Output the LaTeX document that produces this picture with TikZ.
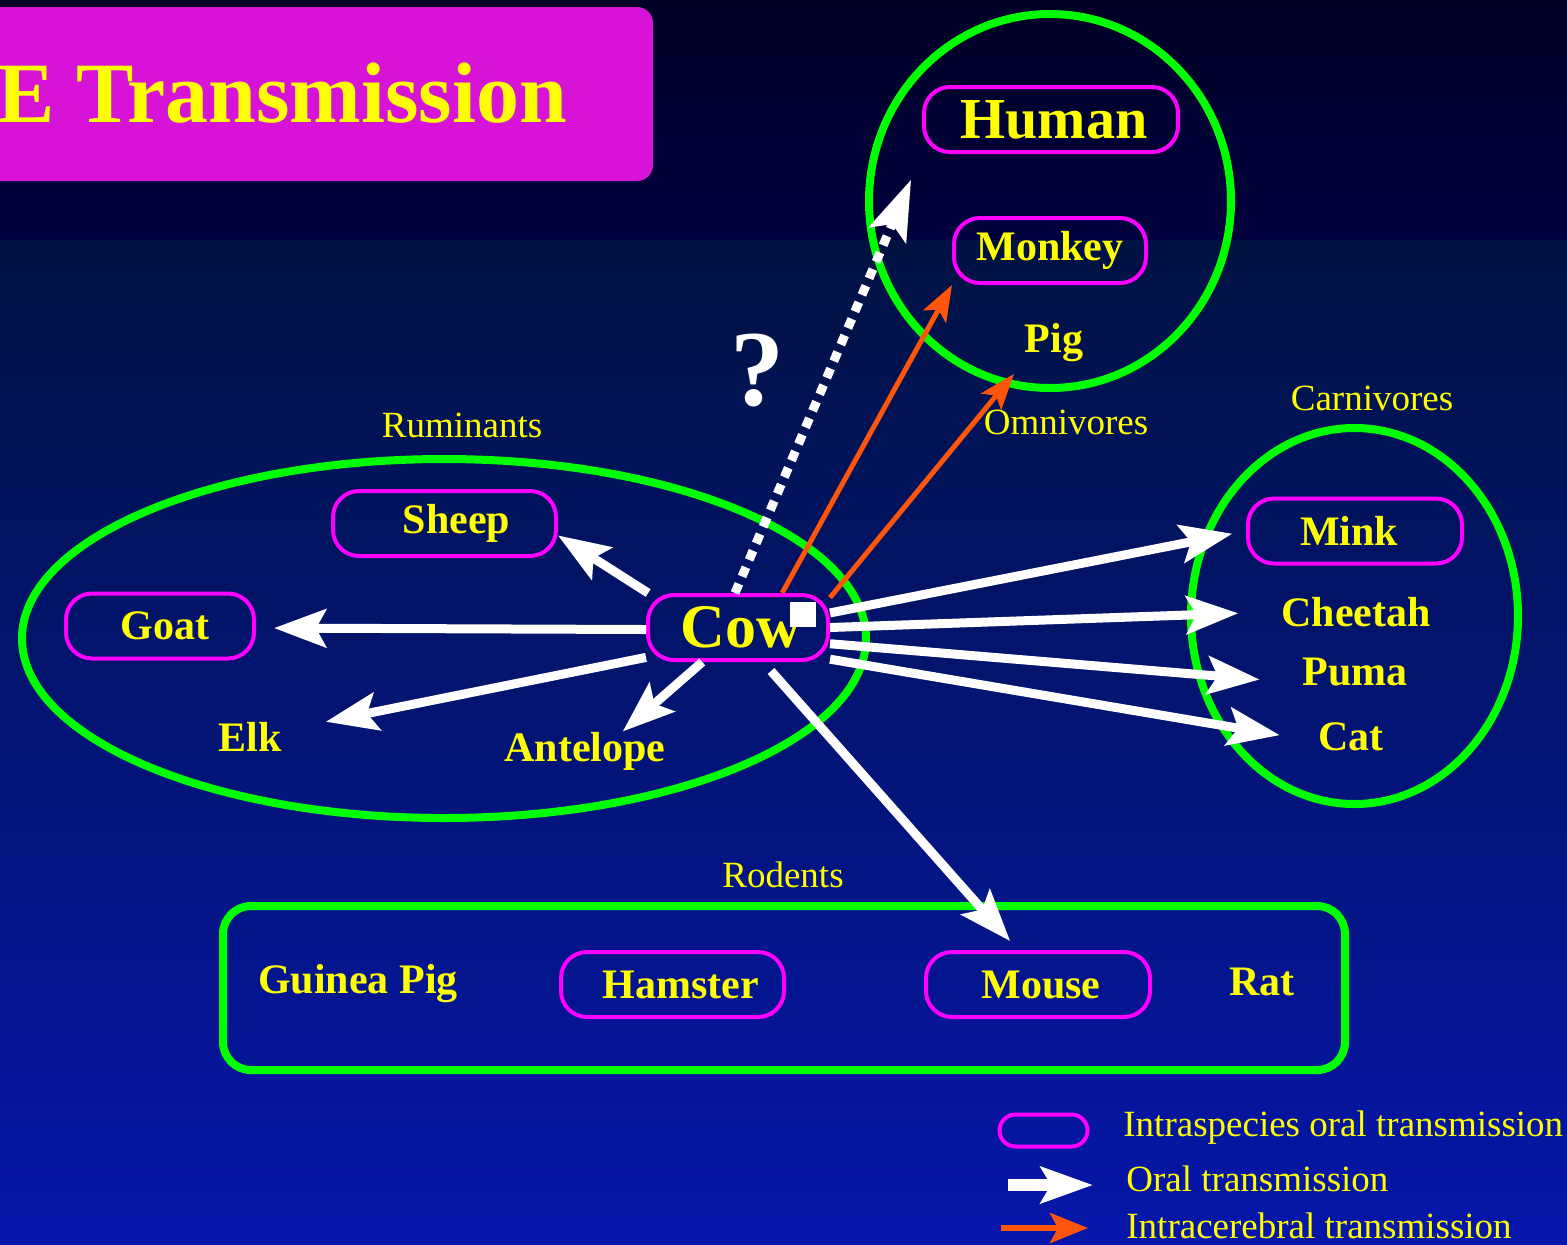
\documentclass[tikz,border=0pt]{standalone}
\usepackage{fontspec}
\setmainfont{Liberation Serif}
\usetikzlibrary{arrows.meta,shapes.geometric}

\definecolor{bgtop}{RGB}{0,0,38}
\definecolor{bgtopb}{RGB}{0,0,62}
\definecolor{bgmid}{RGB}{0,18,66}
\definecolor{bgbot}{RGB}{6,22,170}
\definecolor{grpgreen}{RGB}{0,255,0}
\definecolor{pillpink}{RGB}{255,0,255}
\definecolor{titlepink}{RGB}{216,19,216}
\definecolor{txtyellow}{RGB}{255,255,0}
\definecolor{icbred}{RGB}{255,85,10}

\begin{document}
\begin{tikzpicture}[x=0.5pt,y=-0.5pt,
  pill/.style={draw=pillpink,line width=2pt,rounded corners=13pt,minimum height=32.5pt,
    text=txtyellow,font=\fontsize{21}{24}\selectfont\bfseries},
  animal/.style={text=txtyellow,font=\fontsize{21}{24}\selectfont\bfseries},
  grp/.style={draw=grpgreen,line width=4pt},
  grplbl/.style={text=txtyellow,font=\fontsize{18.5}{22}\selectfont},
  oral/.style={draw=white,line width=4.5pt,-{Stealth[length=26pt,width=19pt,inset=5pt]}},
  icb/.style={draw=icbred,line width=2.5pt,-{Stealth[length=18pt,width=13pt,inset=4pt]}}]
	\useasboundingbox (0,0) rectangle (1567,1244);
	\clip (0,0) rectangle (1567,1244);
	\fill[top color=bgtop,bottom color=bgtopb] (0,0) rectangle (1567,240);
	\fill[top color=bgmid,bottom color=bgbot] (0,240) rectangle (1567,1244);
	% title
	\fill[titlepink,rounded corners=8pt] (-30,7) rectangle (653,181);
	\node[anchor=base west,inner sep=0,text=txtyellow,font=\fontsize{43}{48}\selectfont\bfseries] (title) at (-3,122) {E Transmission};
	% groups
	\node[grp,ellipse,minimum width=181pt,minimum height=187pt] (omni) at (1050,201) {};
	\node[grp,ellipse,minimum width=422pt,minimum height=179.5pt] (rumi) at (444,638.5) {};
	\node[grp,ellipse,minimum width=163.5pt,minimum height=188pt] (carn) at (1354.5,616) {};
	\node[grp,rectangle,rounded corners=14pt,minimum width=561pt,minimum height=82pt] (rode) at (784,988) {};
	\node[grplbl] (omnilbl) at (1066,422) {Omnivores};
	\node[grplbl] (rumilbl) at (462,425) {Ruminants};
	\node[grplbl] (carnlbl) at (1372,398) {Carnivores};
	\node[grplbl] (rodelbl) at (783,875) {Rodents};
	% animals
	\node[pill,minimum width=127pt,font=\fontsize{29}{32}\selectfont\bfseries] (human) at (1051,119.5) {\hspace{3pt}Human};
	\node[pill,minimum width=96pt] (monkey) at (1050,250.5) {Monkey};
	\node[animal] (pig) at (1054,343) {Pig};
	\node[pill,minimum width=111.5pt] (sheep) at (444.5,523.5) {\hspace{12pt}Sheep};
	\node[pill,minimum width=94pt] (goat) at (160,626) {\hspace{5pt}Goat};
	\node[pill,minimum width=90pt,font=\fontsize{31}{34}\selectfont\bfseries] (cow) at (738,627.5) {\hspace{3pt}Cow};
	\node[animal] (elk) at (250,737) {Elk};
	\node[animal] (antelope) at (585,751) {Antelope};
	\node[pill,minimum width=107pt] (mink) at (1355,531) {Mink\kern6pt};
	\node[animal] (cheetah) at (1356,612) {Cheetah};
	\node[animal] (puma) at (1355,672) {Puma};
	\node[animal] (cat) at (1351,737) {Cat};
	\node[animal] (guinea) at (358,984) {Guinea Pig};
	\node[pill,minimum width=111.5pt] (hamster) at (672.5,984.5) {\hspace{8.5pt}Hamster};
	\node[pill,minimum width=112pt] (mouse) at (1038,984.5) {\hspace{3pt}Mouse};
	\node[animal] (rat) at (1262,982) {Rat};
	\node[text=white,font=\fontsize{54}{58}\selectfont\bfseries] (quest) at (757,370) {?};
	\fill[white] (790,602) rectangle (816,627);
	% transmission routes
	\draw[oral] (cow.159) -- (sheep.-6);
	\draw[oral,shorten >=9pt] ([yshift=-1pt]cow.west) -- ([yshift=-1pt]goat.east);
	\draw[oral,shorten >=19pt] (cow.198) -- (elk);
	\draw[oral,shorten >=-5pt] (cow.224) -- (antelope.30);
	\draw[oral,shorten <=6pt,shorten >=6pt] (cow.-54) -- (mouse.120);
	\draw[oral,shorten >=7pt] (cow.9) -- (mink.west);
	\draw[oral,shorten >=18pt] (cow.east) -- (cheetah.west);
	\draw[oral,shorten >=18pt] (cow.-10) -- (puma.190);
	\draw[oral,shorten >=16pt] (cow.-19) -- (cat.185);
	\draw[icb] (cow.38) -- (monkey.south west);
	\draw[icb,shorten >=3pt] (cow.18) -- (pig.south west);
	\draw[oral,dash pattern=on 5pt off 4pt,shorten >=14pt,-{Stealth[length=30pt,width=20pt,inset=6pt]}] (cow.95) -- (human.south west);
	% legend
	\node[pill,minimum width=44pt,minimum height=16pt,rounded corners=8pt] (legpill) at (1043.5,1130.5) {};
	\node[grplbl,anchor=west,inner sep=0] (legoral) at (1123,1128) {Intraspecies oral transmission};
	\coordinate (wa) at (1008,1185);
	\coordinate (wb) at (1093,1185);
	\draw[oral,line width=6pt,-{Stealth[length=26pt,width=18pt,inset=5pt]}] (wa) -- (wb);
	\node[grplbl,anchor=west,inner sep=0] (legwhite) at (1126,1179) {Oral transmission};
	\coordinate (ra) at (1001,1228);
	\coordinate (rb) at (1088,1228);
	\draw[icb,line width=3pt,-{Stealth[length=19pt,width=15pt,inset=4pt]}] (ra) -- (rb);
	\node[grplbl,anchor=west,inner sep=0] (legred) at (1126,1226) {Intracerebral transmission};
\end{tikzpicture}
\end{document}
